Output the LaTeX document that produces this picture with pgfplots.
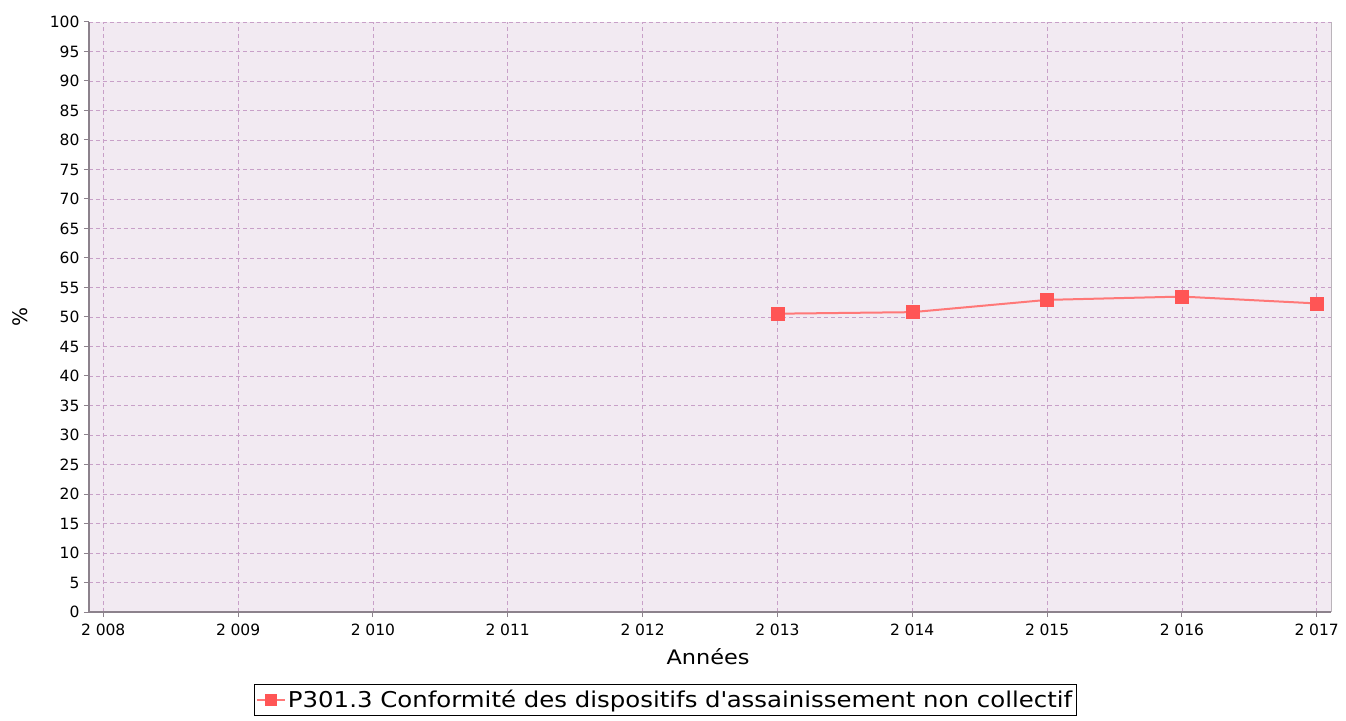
\documentclass[border=0pt]{standalone}
\usepackage{fontspec}
\setmainfont{DejaVu Sans}
\newfontfamily\widefont[FakeStretch=1.12]{DejaVu Sans}
\usepackage{pgfplots}
\pgfplotsset{compat=1.18}
\definecolor{bgc}{RGB}{242,234,242}
\definecolor{gridc}{RGB}{200,160,200}
\definecolor{axc}{RGB}{140,130,140}
\definecolor{serc}{RGB}{255,85,85}
\definecolor{linec}{RGB}{255,120,120}
\newcommand{\ys}[1]{2\hspace{0.3em}#1}
\begin{document}
\begin{tikzpicture}
\begin{axis}[
  scale only axis,
  width=1242pt, height=590pt,
  xmin=2007.894, xmax=2017.106,
  ymin=0, ymax=100,
  xtick={2008,2009,2010,2011,2012,2013,2014,2015,2016,2017},
  xticklabels={\ys{008},\ys{009},\ys{010},\ys{011},\ys{012},\ys{013},\ys{014},\ys{015},\ys{016},\ys{017}},
  ytick={0,5,...,100},
  /pgf/number format/assume math mode=true,
  tick label style={font=\fontsize{15.5}{17}\selectfont},
  xlabel={Années},
  ylabel={\%},
  xlabel style={at={(axis description cs:0.4984,-0.0763)}, anchor=center, font=\widefont\fontsize{20}{22}\selectfont},
  ylabel style={at={(axis description cs:-0.0556,0.5)}, anchor=center, font=\fontsize{20}{22}\selectfont},
  axis background/.style={fill=bgc},
  axis x line*=bottom, axis y line*=left,
  axis line style={axc, line width=1.8pt, -},
  tick style={axc, line width=1pt},
  tick align=outside,
  major tick length=5pt,
  xticklabel style={yshift=-3pt},
  yticklabel style={xshift=-1pt},
  grid=major,
  major grid style={gridc, line width=0.8pt, dash pattern=on 4pt off 3pt},
  legend style={at={(axis description cs:0.4638,-0.149)}, anchor=center,
    draw=black, line width=0.8pt, font=\widefont\fontsize{21.8}{24}\selectfont,
    inner xsep=2pt, inner ysep=4pt, row sep=0pt},
  legend cell align=left,
  legend image code/.code={
    \draw[linec, line width=2pt] (0pt,0pt) -- (28pt,0pt);
    \fill[serc] (9pt,-5pt) rectangle (19pt,5pt);
  },
]
\addplot[linec, line width=2pt, mark=square*, mark size=6.5pt,
  mark options={fill=serc, draw=serc, line width=0.5pt}]
  coordinates {(2013,50.56) (2014,50.82) (2015,52.9) (2016,53.46) (2017,52.3)};
\addlegendentry{P301.3 Conformité des dispositifs d\textquotesingle assainissement non collectif}
\end{axis}
\draw[axc!60, line width=1pt] (current axis.south east) -- (current axis.north east);
\path (current axis.south west) ++(-89pt,-108pt) rectangle ++(1346pt,720pt);
\end{tikzpicture}
\end{document}
